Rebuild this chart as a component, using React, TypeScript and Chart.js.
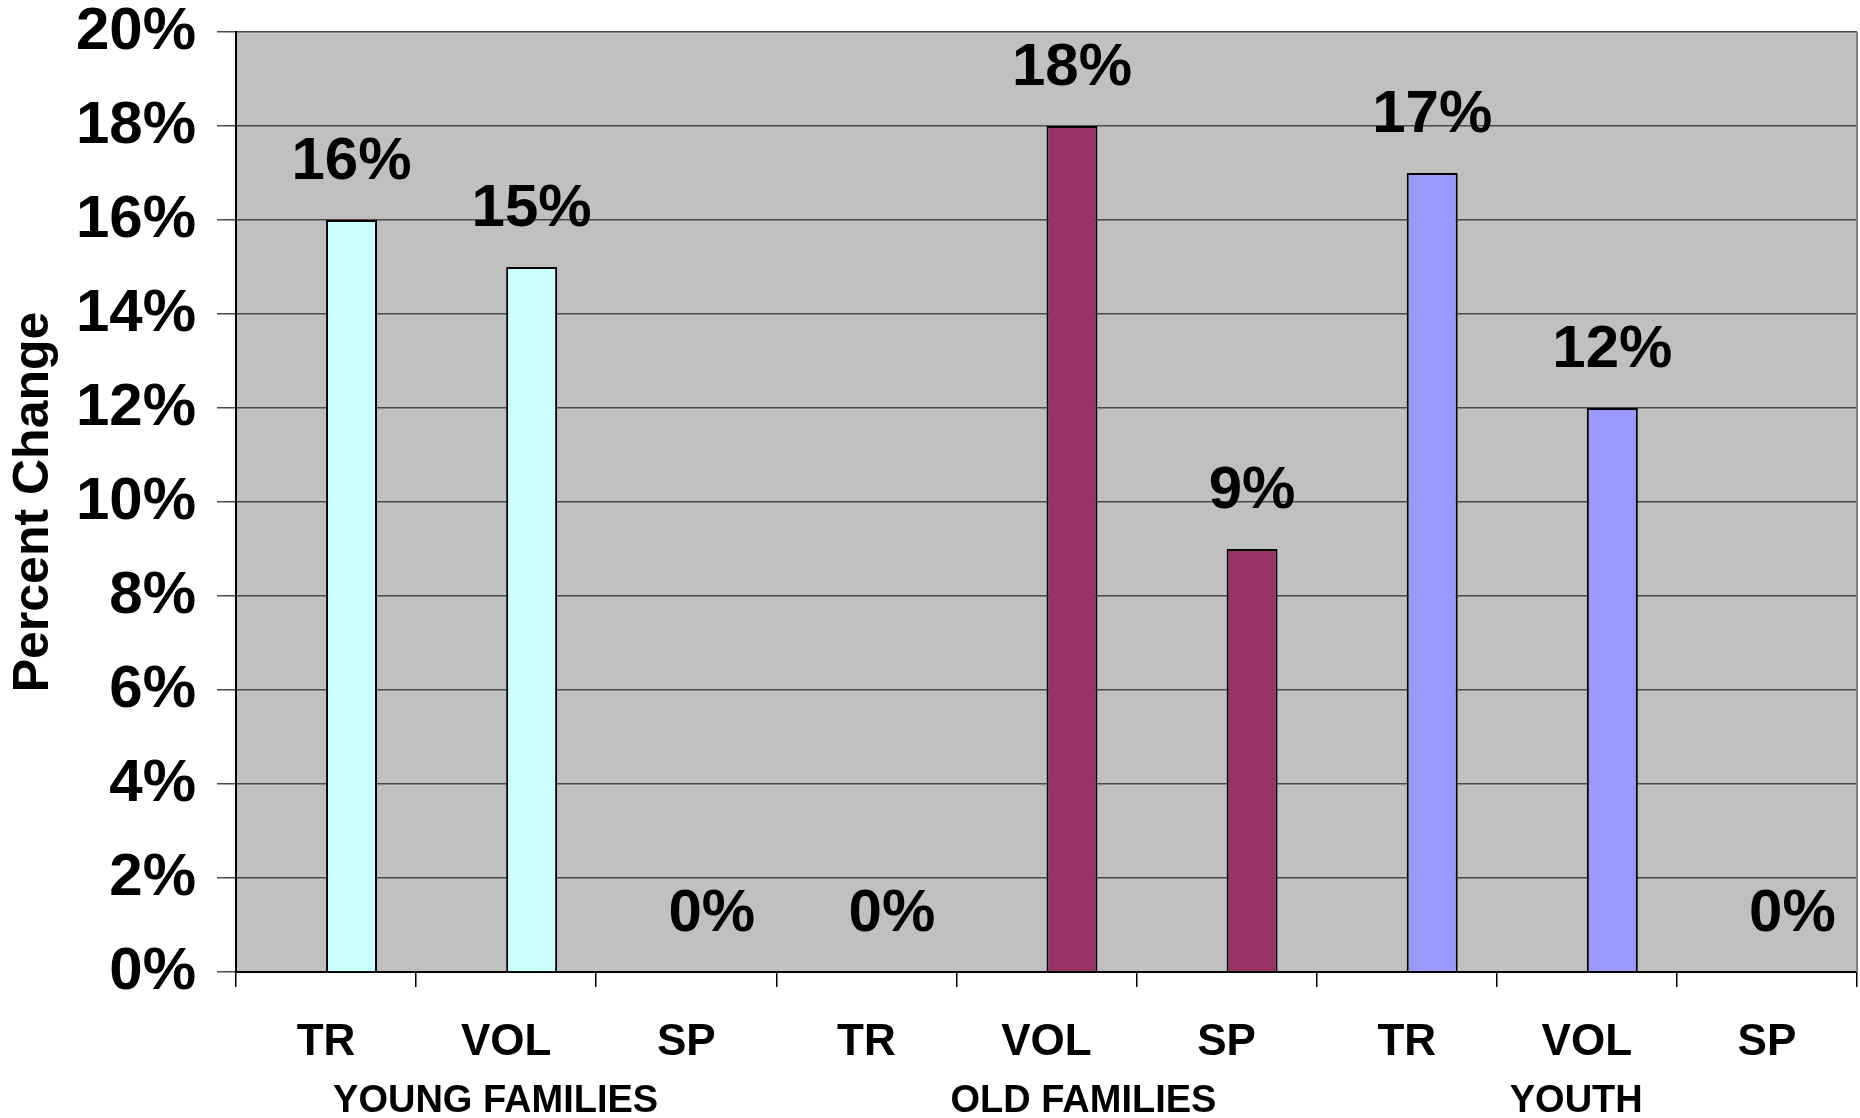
import { useEffect, useRef } from 'react';
import { Chart, registerables } from 'chart.js';

Chart.register(...registerables);

const categories = ['TR', 'VOL', 'SP', 'TR', 'VOL', 'SP', 'TR', 'VOL', 'SP'];
const groups = ['YOUNG FAMILIES  ', '       OLD FAMILIES', 'YOUTH  '];
const percentChange = [16, 15, 0, 0, 18, 9, 17, 12, 0];
const groupColors = ['#CCFFFF', '#993366', '#9999FF'];
const placeholder = [null, null, null, null, null, null, null, null, null];
const yMin = 0;
const yMax = 20;
const yStep = 2;

const FONT = '"Liberation Sans", Arial, Helvetica, sans-serif';

export default function App() {
  const ref = useRef<HTMLCanvasElement>(null);

  useEffect(() => {
    document.body.style.margin = '0';
    const canvas = ref.current;
    if (!canvas) return;

    const bgPlugin = {
      id: 'plotBg',
      beforeDraw(chart: any) {
        const { ctx, chartArea: a } = chart;
        ctx.save();
        ctx.fillStyle = '#ffffff';
        ctx.fillRect(0, 0, chart.width, chart.height);
        ctx.fillStyle = '#C0C0C0';
        ctx.fillRect(a.left, a.top, a.right - a.left, a.bottom - a.top);
        ctx.restore();
      },
      afterDraw(chart: any) {
        const { ctx, chartArea: a } = chart;
        ctx.save();
        ctx.strokeStyle = '#808080';
        ctx.lineWidth = 2;
        ctx.beginPath();
        ctx.moveTo(a.right, a.top);
        ctx.lineTo(a.right, a.bottom);
        ctx.stroke();
        ctx.restore();
      },
    };

    const valuePlugin = {
      id: 'valueLabels',
      afterDatasetsDraw(chart: any) {
        const { ctx } = chart;
        const meta = chart.getDatasetMeta(1);
        ctx.save();
        ctx.font = `bold 60px ${FONT}`;
        ctx.fillStyle = '#000';
        ctx.textAlign = 'center';
        ctx.textBaseline = 'alphabetic';
        meta.data.forEach((bar: any, i: number) => {
          ctx.fillText(`${percentChange[i]}%`, bar.x, bar.y - 41);
        });
        ctx.restore();
      },
    };

    const groupPlugin = {
      id: 'groupLabels',
      afterDraw(chart: any) {
        const { ctx, chartArea } = chart;
        const xs = chart.scales.x;
        ctx.save();
        ctx.font = `bold 38px ${FONT}`;
        ctx.fillStyle = '#000';
        ctx.textAlign = 'center';
        ctx.textBaseline = 'alphabetic';
        groups.forEach((g, gi) => {
          const cx = xs.getPixelForValue(gi * 3 + 1);
          ctx.fillText(g, cx, chartArea.bottom + 140);
        });
        ctx.restore();
      },
    };

    const chart = new Chart(canvas, {
      type: 'bar',
      data: {
        labels: categories,
        datasets: [
          {
            label: 'spacer',
            data: placeholder as any,
            backgroundColor: 'rgba(0,0,0,0)',
            categoryPercentage: 0.566,
            barPercentage: 1,
          },
          {
            label: 'Percent Change',
            data: percentChange,
            backgroundColor: percentChange.map((_, i) => groupColors[Math.floor(i / 3)]),
            borderColor: '#000000',
            borderWidth: percentChange.map((v) => (v === 0 ? 0 : 2)),
            borderSkipped: 'bottom',
            categoryPercentage: 0.566,
            barPercentage: 1,
          },
        ],
      },
      options: {
        responsive: false,
        animation: false,
        devicePixelRatio: 1,
        layout: { padding: { top: 32, right: 3, left: 0, bottom: 0 } },
        plugins: {
          legend: { display: false },
          tooltip: { enabled: false },
        },
        scales: {
          x: {
            afterFit: (s: any) => {
              s.height = 146;
            },
            grid: {
              display: true,
              drawOnChartArea: false,
              drawTicks: true,
              tickLength: 15,
              color: '#000000',
              lineWidth: 1.5,
              offset: true,
            },
            border: { display: true, color: '#000000', width: 2 },
            ticks: {
              color: '#000000',
              font: { family: FONT, size: 44, weight: 'bold', lineHeight: 1 },
              padding: 34,
              maxRotation: 0,
              autoSkip: false,
            },
          },
          y: {
            min: yMin,
            max: yMax,
            afterFit: (s: any) => {
              s.width = 236;
            },
            grid: {
              color: '#4a4a4a',
              lineWidth: 1.5,
              tickLength: 19,
              tickColor: '#4a4a4a',
            },
            border: { display: true, color: '#000000', width: 2 },
            ticks: {
              stepSize: yStep,
              color: '#000000',
              padding: 21,
              font: { family: FONT, size: 60, weight: 'bold', lineHeight: 0.3 },
              callback: (v: any) => `${v}%`,
            },
            title: {
              display: true,
              text: 'Percent Change',
              color: '#000000',
              font: { family: FONT, size: 50, weight: 'bold', lineHeight: 1.2 },
              padding: { top: 4, bottom: 0 },
            },
          },
        },
      },
      plugins: [bgPlugin, valuePlugin, groupPlugin],
    });

    return () => {
      chart.destroy();
    };
  }, []);

  return (
    <div style={{ width: 1860, height: 1118 }}>
      <canvas ref={ref} width={1860} height={1118} style={{ display: 'block' }} />
    </div>
  );
}
